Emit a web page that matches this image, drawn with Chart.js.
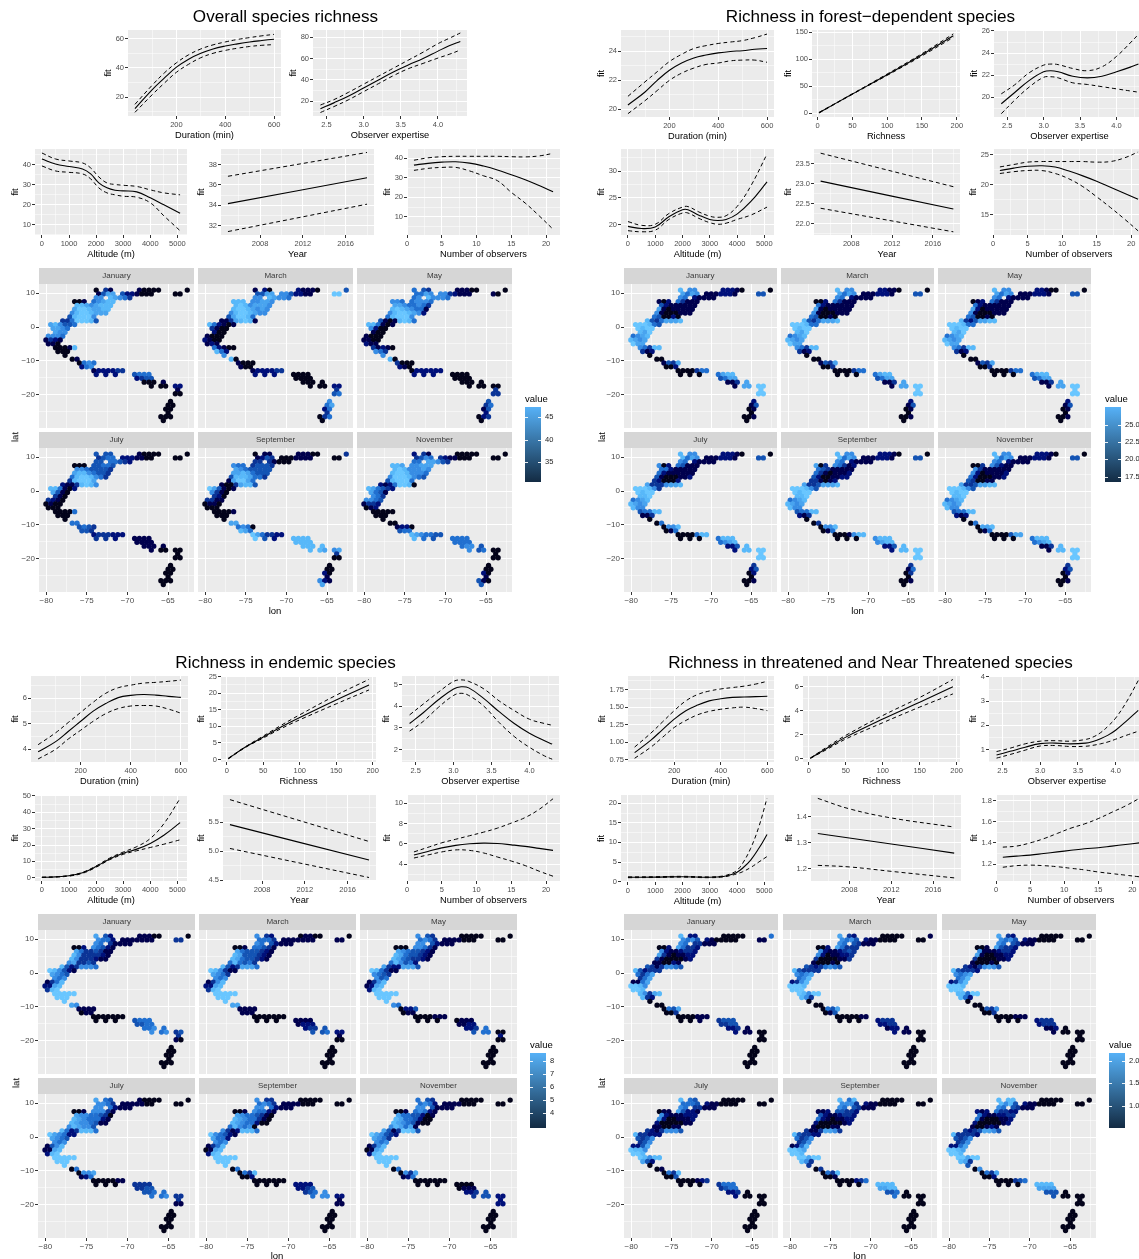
<!DOCTYPE html>
<html>
<head>
<meta charset="utf-8">
<style>
html,body{margin:0;padding:0;background:#fff;width:1139px;height:1259px;overflow:hidden}
#page{position:relative;width:1139px;height:1259px;overflow:hidden;font-family:"Liberation Sans",Arial,sans-serif}
#page canvas{position:absolute}
.t{position:absolute;white-space:nowrap;line-height:1;transform:translate(-50%,-50%);filter:grayscale(1)}
.strip{position:absolute;background:#D6D6D6;color:#3a3a3a;font-size:8px;text-align:center;filter:grayscale(1)}
.bar{position:absolute;background:linear-gradient(to top,#132B43,#56B1F7)}
.tk{position:absolute;background:#fff;height:1px;width:3px;opacity:.9}
</style>
<script src="https://cdn.jsdelivr.net/npm/chart.js@4"></script>
</head>
<body>
<div id="page"></div>
<script>
/* ---------- shared x values of the fitted curves ---------- */
const durX=[30,100,150,200,250,300,350,400,450,500,550,600];
const expX=[2.42,2.6,2.8,3,3.1,3.2,3.4,3.6,3.8,4,4.2,4.3];
const obsX=[1,3,5,7,9,11,13,15,17,19,21];
const yearX=[2005,2018];

/* ---------- Overall species richness ---------- */
const ovDurFit=[12,25,33,40.5,46,50,53,55,56.5,57.8,58.8,59.7];
const ovDurLo=[9.5,21.5,29.5,37,42.5,47,50,52,53.5,54.7,55.5,56];
const ovDurHi=[15,28,36.5,43.5,49,53,55.8,57.8,59.5,60.8,62,63];
const ovExpX=[2.42,2.6,2.8,3,3.2,3.4,3.6,3.8,4,4.15,4.3];
const ovExpFit=[13,18.5,25,32.5,40,47.5,54,60,67,72,76];
const ovExpLo=[9.5,15,21.5,29,36.5,44,50.5,55.5,60.5,64,68];
const ovExpHi=[16.5,21.5,28.5,36,43.5,51,58.5,66,74,79,84];
const ovAltX=[0,500,1000,1500,1800,2100,2400,2700,3000,3500,4000,4500,5100];
const ovAltFit=[43,40.5,39.2,38,35.5,31,28.5,27.3,27,26.5,23.5,20,15.8];
const ovAltLo=[39.5,37,36.3,35.5,33,28.5,26,25,24.3,23.8,21,14.5,7];
const ovAltHi=[46,43,42,41,38.5,34,31,30.2,29.8,29.2,27.5,26,25];
const ovYearFit=[34.15,36.7], ovYearLo=[31.4,34.1], ovYearHi=[36.85,39.2];
const ovObsFit=[36.5,37.4,38,38.2,37.5,36,34,31.5,29,26,22.8];
const ovObsLo=[33.8,34.8,35.3,35.3,33.5,31,28.5,22.5,17,10.5,3.6];
const ovObsHi=[39,40.2,40.8,41,41,41,41,40.8,40.7,41.2,42.5];

/* ---------- Forest-dependent species ---------- */
const fDurFit=[20.3,21.2,22,22.7,23.2,23.55,23.75,23.9,24,24.05,24.15,24.2];
const fDurLo=[19.7,20.6,21.3,22,22.5,22.85,23.1,23.2,23.35,23.4,23.4,23.25];
const fDurHi=[20.9,21.9,22.6,23.3,23.8,24.2,24.4,24.55,24.65,24.75,24.95,25.2];
const fRichX=[2,50,100,150,195];
const fRichFit=[1,35.5,71,108,143];
const fRichLo=[0.5,35,70,106,140];
const fRichHi=[1.5,36,72.5,110,146.5];
const fExpFit=[19.4,20.4,21.5,22.3,22.4,22.3,21.9,21.75,21.9,22.3,22.75,23];
const fExpLo=[18.5,19.7,20.9,21.8,21.85,21.75,21.3,21.15,20.95,20.75,20.55,20.45];
const fExpHi=[20.3,21.1,22.2,22.9,23,22.95,22.6,22.4,22.75,23.7,25,25.7];
const fAltX=[0,500,1000,1500,2000,2200,2600,3000,3300,3600,4000,4500,5100];
const fAltFit=[19.7,19.3,19.6,21.5,22.8,22.8,21.8,21,20.8,21,22,24.3,28];
const fAltLo=[18.9,18.7,19,21,22.2,22.2,21.2,20.4,20.1,20.3,21,21.8,23.3];
const fAltHi=[20.6,19.9,20.1,22.1,23.3,23.4,22.4,21.6,21.4,21.7,23.4,27.2,33.2];
const fYearFit=[23.07,22.37], fYearLo=[22.39,21.8], fYearHi=[23.77,22.93];
const fObsFit=[22.4,22.8,23.1,23.2,23,22.3,21.5,20.6,19.6,18.6,17.6];
const fObsLo=[21.9,22.2,22.4,22.4,21.9,21,19.7,18,16.2,14.3,12.3];
const fObsHi=[23,23.4,23.8,23.9,23.9,23.9,23.9,23.8,23.9,24.5,25.5];

/* ---------- Endemic species ---------- */
const eDurFit=[3.9,4.3,4.7,5.1,5.5,5.8,6.03,6.12,6.15,6.13,6.08,6.04];
const eDurLo=[3.62,4,4.4,4.75,5.1,5.4,5.6,5.7,5.72,5.7,5.58,5.42];
const eDurHi=[4.18,4.65,5.05,5.45,5.85,6.2,6.42,6.52,6.6,6.63,6.67,6.72];
const eRichX=[2,25,50,75,100,150,195];
const eRichFit=[0.3,3.7,6.8,9.9,12.7,18,22.5];
const eRichLo=[0.2,3.6,6.5,9.4,12,16.8,21];
const eRichHi=[0.4,3.8,7.1,10.4,13.5,19.4,24.2];
const eExpFit=[3.2,3.7,4.3,4.8,4.9,4.85,4.35,3.75,3.2,2.75,2.4,2.25];
const eExpLo=[2.85,3.3,3.95,4.5,4.6,4.5,4,3.25,2.6,2.1,1.7,1.55];
const eExpHi=[3.6,4.1,4.65,5.15,5.22,5.15,4.8,4.25,3.8,3.4,3.2,3.12];
const eAltX=[0,500,1000,1500,2000,2500,3000,3500,4000,4500,5100];
const eAltFit=[0.2,0.5,1.2,3,6.8,11.5,15,17.5,21,26,33.7];
const eAltLo=[0.2,0.4,1,2.7,6.4,11,14.3,16.5,18.5,20.5,23.2];
const eAltHi=[0.3,0.6,1.4,3.3,7.2,12,15.7,19,24,33,48.5];
const eYearFit=[5.46,4.85], eYearLo=[5.05,4.55], eYearHi=[5.89,5.17];
const eObsFit=[4.9,5.25,5.6,5.85,6,6.07,6.03,5.9,5.75,5.55,5.35];
const eObsLo=[4.6,4.9,5.2,5.4,5.35,5.1,4.7,4.3,3.85,3.3,2.8];
const eObsHi=[5.2,5.65,6.1,6.45,6.8,7.15,7.55,8.05,8.6,9.4,10.45];

/* ---------- Threatened and Near Threatened species ---------- */
const tDurFit=[0.85,1.03,1.18,1.33,1.45,1.53,1.59,1.62,1.64,1.645,1.65,1.655];
const tDurLo=[0.77,0.93,1.07,1.21,1.31,1.39,1.44,1.47,1.49,1.5,1.48,1.45];
const tDurHi=[0.93,1.13,1.29,1.45,1.59,1.68,1.73,1.76,1.78,1.8,1.83,1.87];
const tRichX=[2,25,50,100,150,195];
const tRichFit=[0.05,0.9,1.8,3.3,4.7,6];
const tRichLo=[0.04,0.8,1.65,3,4.3,5.4];
const tRichHi=[0.06,1,1.95,3.6,5.1,6.6];
const tExpX=[2.42,2.6,2.8,3,3.2,3.4,3.6,3.7,3.8,3.9,4,4.15,4.3];
const tExpFit=[0.78,0.93,1.1,1.25,1.27,1.24,1.27,1.34,1.45,1.6,1.8,2.2,2.62];
const tExpLo=[0.65,0.8,0.98,1.15,1.17,1.13,1.14,1.18,1.24,1.32,1.43,1.6,1.76];
const tExpHi=[0.92,1.06,1.24,1.35,1.37,1.35,1.42,1.52,1.7,1.97,2.3,3,3.85];
const tAltX=[0,1000,2000,3000,3500,3800,4000,4200,4500,4800,5100];
const tAltFit=[1.1,1.15,1.25,1.1,1.3,1.8,2.4,3.4,5.5,8.5,12];
const tAltLo=[1,1.05,1.15,1,1.2,1.6,2,2.5,3.6,5,6.4];
const tAltHi=[1.2,1.25,1.35,1.2,1.45,2.1,2.9,4.6,8.5,14,21.3];
const tYearX=[2005,2008,2012,2018];
const tYearFit=[1.335,1.318,1.295,1.26];
const tYearLo=[1.213,1.207,1.19,1.165];
const tYearHi=[1.47,1.43,1.395,1.36];
const tObsFit=[1.265,1.275,1.285,1.3,1.315,1.33,1.345,1.355,1.37,1.385,1.4];
const tObsLo=[1.17,1.185,1.19,1.185,1.175,1.16,1.145,1.125,1.11,1.095,1.08];
const tObsHi=[1.36,1.37,1.4,1.44,1.49,1.54,1.58,1.63,1.69,1.75,1.82];

/* ---------- map cells: [lat, [lon, ...]] per row of the hexagon grid ---------- */
const cellRows=[
[10.95,[-73.85,-72.67,-72.08,-68.53,-67.94,-67.35,-66.76,-66.17,-62.63]],
[9.81,[-73.55,-72.96,-72.37,-71.78,-70.60,-70.01,-69.42,-68.83,-68.24,-67.65,-67.06,-64.10,-63.51]],
[8.68,[-73.85,-73.26,-72.08,-71.49,-70.90,-70.30,-69.71]],
[7.54,[-76.51,-75.92,-75.33,-74.14,-73.55,-72.96,-72.37,-71.78]],
[6.40,[-76.21,-75.62,-75.03,-74.44,-73.85,-73.26,-72.67,-72.08]],
[5.27,[-76.51,-75.92,-75.33,-74.73,-74.14,-73.55,-72.96,-72.37]],
[4.13,[-76.80,-76.21,-75.62,-75.03,-74.44,-73.85,-73.26,-72.67]],
[2.99,[-77.10,-76.51,-75.92,-75.33,-74.73,-74.14]],
[1.85,[-77.98,-77.39,-76.80,-76.21,-75.62,-75.03,-74.44,-73.85]],
[0.72,[-79.46,-78.87,-78.28,-77.69,-77.10,-76.51]],
[-0.42,[-79.16,-78.57,-77.98,-77.39]],
[-1.56,[-78.87,-78.28,-77.69]],
[-2.69,[-79.75,-79.16,-78.57,-77.98]],
[-3.83,[-80.05,-79.46,-78.87,-78.28]],
[-4.97,[-79.75,-79.16,-78.57]],
[-6.10,[-78.87,-78.28,-77.69,-77.10,-76.51]],
[-7.24,[-78.57,-77.98,-77.39]],
[-8.38,[-77.69]],
[-9.52,[-76.80,-76.21]],
[-10.65,[-75.92,-75.33,-74.73,-74.14]],
[-11.79,[-75.62,-75.03,-74.44]],
[-12.93,[-74.14,-73.55,-72.96,-72.37,-71.78,-71.19,-70.60]],
[-14.06,[-73.85,-72.67,-71.49,-69.12,-68.53,-67.94,-67.35]],
[-15.20,[-68.83,-68.24,-67.65,-67.06]],
[-16.34,[-67.94,-67.35,-66.76,-65.58]],
[-17.48,[-67.06,-65.88,-65.29,-64.10,-63.51]],
[-18.61,[-63.81]],
[-19.75,[-64.10,-63.51]],
[-22.02,[-64.69]],
[-23.16,[-64.99,-64.40]],
[-24.30,[-65.29,-64.69]],
[-25.43,[-64.99]],
[-26.57,[-65.88,-65.29,-64.69]],
[-27.71,[-65.58]]
];

/* colour level (0 dark .. 9 light) per cell, one group per grid row */
const ovJan="031100000 1477422100000 6687653 00156788 88767888 79987788 68998777 489996 33599984 786445 7765 766 6665 1321 110 00018 000 0 01 0565 256 1222233 2224555 2344 0001 00022 1 00";
const ovMar="120211104 4477664221199 6687665 88866776 89867776 89987676 68998766 479985 11378981 852101 3100 200 1000 2100 121 52100 852 6 80 1000 100 1222233 2220000 0000 0000 00022 3 45 6 57 25 3 035 0";
const ovMay="543111000 5576663211110 5686665 66556665 77655653 89876551 68998762 589996 41018985 885101 6200 100 1000 1100 211 31210 653 6 80 3000 210 0222222 2220000 0000 0000 00000 3 33 4 35 14 2 023 0";
const ovJul="444100000 3455222110000 4455432 00044554 66544443 78865443 58998653 389997 21138986 885102 7410 310 3210 0100 000 00005 000 0 55 4543 443 2333222 3321111 1111 1111 10000 0 00";
const ovSep="011111003 1243000111100 3331000 65534443 76544444 77875444 48887553 179975 10037884 974101 6310 320 3311 0110 000 00001 000 0 77 5650 875 9753322 9428888 8888 8888 88767 3 00 0 00 20 1 621 7";
const ovNov="231000000 3465321100000 5577643 88766777 89866676 89986665 69998654 489995 21259980 875432 7541 653 6654 1332 012 00000 000 0 00 1220 455 8765544 8545555 5555 5664 64500 0 00 0 00 20 1 410 4";

const fJan="866222100 7576111222144 6521111 10253111 42111111 71011111 61000111 540020 84357778 999854 9899 879 5678 8767 977 65388 312 0 00 1437 002 0000355 0005788 4577 1137 17799 9 99 2 14 01 0 001 0";
const fMar="866221100 7576111222144 6521111 00253111 52111111 71011111 61000111 540010 84357778 999855 9899 879 5678 8767 977 65388 312 0 00 1437 003 0000355 0005788 4577 1137 17799 9 99 2 14 01 0 001 0";
const fMay="866221000 7576111222144 6521111 01253111 52111111 72011111 61000111 540010 83247788 999855 9899 879 5678 8767 977 65388 312 0 00 1437 003 0000355 0005788 4577 1137 17799 9 99 2 14 01 0 001 0";
const fJul="866222100 8576111222144 6521111 60254111 55211111 52111111 41000112 320002 73336778 999863 9899 889 5678 8767 866 45588 113 0 05 0668 015 0000588 0005888 5678 2248 28899 9 99 3 24 02 0 001 0";
const fSep="866222100 8576111222144 6521111 70365312 54311111 53101112 42001122 331012 73347778 999864 9899 889 5678 8767 866 45588 213 0 03 0668 015 0001688 0006888 6788 2248 28899 9 99 3 15 03 0 001 0";
const fNov="866222100 8576111222144 6521111 00364211 63111111 62011112 52000112 430011 73347788 999864 9899 889 5678 8767 866 45588 212 0 05 0778 015 0000477 0005888 5678 1138 18899 9 99 3 24 02 0 001 0";

const eJan="742111000 6552111111133 6531111 00265421 75334311 86333321 86333211 673343 84236665 986421 7654 656 1358 2278 389 99999 999 9 76 1111 011 0000000 0004555 4455 5565 65634 3 10";
const eMar="632011000 5553111111111 6542111 00155431 75444321 87444321 87544321 585453 84237775 986311 7653 656 1368 2278 389 99999 999 9 77 1111 111 0000000 0001111 1222 2334 44522 1 00";
const eMay="643000000 5653111100000 6642111 00066531 76544321 87544321 87543321 586452 73227774 985311 6543 645 1368 1278 289 99999 999 9 65 0224 011 0000111 0000111 1122 2235 45500 2 00";
const eJul="754100000 6653111110000 6652111 00166631 76655430 87655521 87665411 687664 85238885 976522 7654 656 1468 1178 289 99999 999 9 05 0667 125 0000011 0003333 3344 4455 55633 3 11";
const eSep="633000000 5653111100000 6652111 00165521 76554310 87655310 87655200 586560 63128885 965421 7552 656 1358 0178 289 99999 999 9 05 0538 002 0000000 0002222 2234 3456 56622 1 11";
const eNov="543000000 5652111100000 6641111 00156521 75544201 87554200 87654100 687571 74139984 976432 7653 656 1368 0178 289 99999 999 9 05 0637 125 0000000 0000000 0111 2234 34422 2 22";

const tJan="822000005 6564210000011 6533111 00275332 62112332 73101122 31000012 110021 43136654 842333 5357 357 1157 9986 998 86378 832 0 00 0547 003 0000111 0013444 3344 2231 21100";
const tMar="732000001 6564211000000 6543111 00275333 62112343 62011223 30000113 100010 43235654 843333 6567 568 2368 9998 999 98699 863 0 00 0547 014 0000011 0002333 2233 1221 21100";
const tMay="732000000 6564211000000 6543111 00174332 61112332 71001122 30000112 100010 32136764 843332 6567 568 2368 9998 999 88599 852 0 00 0436 003 0000111 0002333 2333 1120 10000";
const tJul="854000000 5554211000000 6533111 01174221 62111222 62001112 20000011 110011 32136664 833222 4346 346 2247 9886 998 98688 742 0 01 0538 004 0000123 0003555 3455 2230 20000";
const tSep="858000000 6663211000000 6543111 11244332 42112332 52101122 20000012 100011 31137763 843322 5346 346 1258 9987 998 99799 863 3 03 0538 001 0000235 0008888 7788 4450 50000";
const tNov="888000000 8684211000000 6543111 21253322 52112233 51000112 20000012 100121 32347764 833332 4346 346 2257 9987 998 99799 873 4 06 0537 002 0000345 0008888 7777 4440 40000";

const levelColors=["#03031a","#00004d","#00107a","#0b3496","#1454b4","#2170d0","#388de4","#49a4ef","#58b8f9","#69c6ff"];

/* ---------- tick and legend labels ---------- */
const months=["January","March","May","July","September","November"];
const lonTicks=[-80,-75,-70,-65], latTicks=[10,0,-10,-20];
const legendOv=["45","40","35"], legendF=["25.0","22.5","20.0","17.5"], legendE=["8","7","6","5","4"], legendT=["2.0","1.5","1.0"];

/* ---------- x axes of the fitted-curve plots ---------- */
const xAxes={
 dur:{title:"Duration (min)",min:1.5,max:628.5,major:[200,400,600],dec:0},
 exp:{title:"Observer expertise",min:2.32,max:4.39,major:[2.5,3,3.5,4],dec:1},
 rich:{title:"Richness",min:-8,max:204.6,major:[0,50,100,150,200],dec:0},
 alt:{title:"Altitude (m)",min:-255,max:5355,major:[0,1000,2000,3000,4000,5000],dec:0},
 year:{title:"Year",min:2004.35,max:2018.65,major:[2008,2012,2016],dec:0},
 obs:{title:"Number of observers",min:0,max:22,major:[0,5,10,15,20],dec:0}
};

/* ---------- plots: axis, panel box, y range and ticks, curves ---------- */
const plots=[
{a:"dur",b:[128,281,30,116],y:[7,66],t:[20,40,60],d:0,xs:durX,s:[ovDurFit,ovDurLo,ovDurHi]},
{a:"exp",b:[313,467,30,116],y:[6.2,86.8],t:[20,40,60,80],d:0,xs:ovExpX,s:[ovExpFit,ovExpLo,ovExpHi]},
{a:"alt",b:[35.3,187.6,149,235.3],y:[4.85,48],t:[10,20,30,40],d:0,xs:ovAltX,s:[ovAltFit,ovAltLo,ovAltHi]},
{a:"year",b:[221,374,149,235.3],y:[31.06,39.54],t:[32,34,36,38],d:0,xs:yearX,s:[ovYearFit,ovYearLo,ovYearHi]},
{a:"obs",b:[406.5,559,149,235.3],y:[0.64,44.75],t:[10,20,30,40],d:0,xs:obsX,s:[ovObsFit,ovObsLo,ovObsHi]},

{a:"dur",b:[621.3,774,30,116.7],y:[19.47,25.48],t:[20,22,24],d:0,xs:durX,s:[fDurFit,fDurLo,fDurHi]},
{a:"rich",b:[811.8,959.8,30,116.7],y:[-6.85,153.7],t:[0,50,100,150],d:0,xs:fRichX,s:[fRichFit,fRichLo,fRichHi]},
{a:"exp",b:[993.6,1145,30,116.7],y:[18.2,26.09],t:[20,22,24,26],d:0,xs:expX,s:[fExpFit,fExpLo,fExpHi]},
{a:"alt",b:[621.3,774,149,235.3],y:[18.1,34.13],t:[20,25,30],d:0,xs:fAltX,s:[fAltFit,fAltLo,fAltHi]},
{a:"year",b:[813.6,960,149,235.3],y:[21.72,23.875],t:[22,22.5,23,23.5],d:1,xs:yearX,s:[fYearFit,fYearLo,fYearHi]},
{a:"obs",b:[993,1145,149,235.3],y:[11.6,26],t:[15,20,25],d:0,xs:obsX,s:[fObsFit,fObsLo,fObsHi]},

{a:"dur",b:[30.9,187.6,676,761.7],y:[3.5,6.88],t:[4,5,6],d:0,xs:durX,s:[eDurFit,eDurLo,eDurHi]},
{a:"rich",b:[221,375.6,676,761.7],y:[-0.73,25.2],t:[0,5,10,15,20,25],d:0,xs:eRichX,s:[eRichFit,eRichLo,eRichHi]},
{a:"exp",b:[401.8,559,676,761.7],y:[1.42,5.4],t:[2,3,4,5],d:0,xs:expX,s:[eExpFit,eExpLo,eExpHi]},
{a:"alt",b:[35.3,187.6,795,881],y:[-2,50.6],t:[0,10,20,30,40,50],d:0,xs:eAltX,s:[eAltFit,eAltLo,eAltHi]},
{a:"year",b:[222.5,375.6,795,881],y:[4.49,5.97],t:[4.5,5,5.5],d:1,xs:yearX,s:[eYearFit,eYearLo,eYearHi]},
{a:"obs",b:[406.5,559,795,881],y:[2.33,10.82],t:[4,6,8,10],d:0,xs:obsX,s:[eObsFit,eObsLo,eObsHi]},

{a:"dur",b:[628.2,774,676,762.3],y:[0.717,1.945],t:[0.75,1,1.25,1.5,1.75],d:2,xs:durX,s:[tDurFit,tDurLo,tDurHi]},
{a:"rich",b:[802.7,959.8,676,762.3],y:[-0.27,6.89],t:[0,2,4,6],d:0,xs:tRichX,s:[tRichFit,tRichLo,tRichHi]},
{a:"exp",b:[989,1145,676,762.3],y:[0.49,4.04],t:[1,2,3,4],d:0,xs:tExpX,s:[tExpFit,tExpLo,tExpHi]},
{a:"alt",b:[621.3,774,795,881.5],y:[-0.1,22.1],t:[0,5,10,15,20],d:0,xs:tAltX,s:[tAltFit,tAltLo,tAltHi]},
{a:"year",b:[810.6,961,795,881],y:[1.153,1.483],t:[1.2,1.3,1.4],d:1,xs:tYearX,s:[tYearFit,tYearLo,tYearHi]},
{a:"obs",b:[995.5,1145,795,881],y:[1.04,1.853],t:[1.2,1.4,1.6,1.8],d:1,xs:obsX,s:[tObsFit,tObsLo,tObsHi]}
];

/* ---------- map panels ---------- */
const mapPanels=[
{cols:[39,198,357],w:155,rows:[284,448],h:144,strips:[268,432],sh:16,sets:[ovJan,ovMar,ovMay,ovJul,ovSep,ovNov],lat:[15,437],lon:[275,611]},
{cols:[624,781,938.4],w:152.6,rows:[284,448],h:144,strips:[268,432],sh:16,sets:[fJan,fMar,fMay,fJul,fSep,fNov],lat:[601.5,437],lon:[857.5,611]},
{cols:[38.2,199,360],w:157,rows:[930,1094],h:143.6,strips:[914,1078],sh:16,sets:[eJan,eMar,eMay,eJul,eSep,eNov],lat:[15.6,1083],lon:[277,1255.5]},
{cols:[624,783,942],w:154,rows:[930,1094],h:143.6,strips:[914,1078],sh:16,sets:[tJan,tMar,tMay,tJul,tSep,tNov],lat:[601.5,1083],lon:[859.6,1255.5]}
];
const lonRange=[-80.9,-61.8], latRange=[-29.9,12.75];

const legends=[
{x:525,w:16,y0:407,y1:481.7,labels:legendOv,ys:[417,439.5,462.3],lx:545,tx:525},
{x:1105,w:15.5,y0:407,y1:481.7,labels:legendF,ys:[425.3,442,459.3,476.7],lx:1125,tx:1105},
{x:530,w:16,y0:1053.3,y1:1127.7,labels:legendE,ys:[1061,1074,1087,1100,1113],lx:550,tx:530},
{x:1109,w:16,y0:1053.3,y1:1127.7,labels:legendT,ys:[1061,1083,1105.7],lx:1129,tx:1109}
];

const titles=[["Overall species richness",285.5,17],["Richness in forest\u2212dependent species",870.5,17],["Richness in endemic species",285.5,663],["Richness in threatened and Near Threatened species",870.5,663]];

/* ---------- drawing ---------- */
Chart.defaults.font.family='"Liberation Sans",Arial,sans-serif';
const page=document.getElementById("page");
const panelBg={id:"panelBg",beforeDraw(c){const a=c.chartArea,g=c.ctx;g.save();g.fillStyle="#EBEBEB";g.fillRect(a.left,a.top,a.right-a.left,a.bottom-a.top);g.restore();}};

function minus(s){return String(s).replace("-","\u2212");}
function withMinor(major,min,max){
 const step=major.length>1?major[1]-major[0]:0,out=new Set(major);
 major.forEach(m=>{[m-step/2,m+step/2].forEach(v=>{if(v>min&&v<max)out.add(v);});});
 return [...out].sort((a,b)=>a-b);
}
function axis(o){
 const isMajor=v=>o.major.some(m=>Math.abs(m-v)<1e-9);
 return {
  type:"linear",min:o.min,max:o.max,
  afterBuildTicks(s){s.ticks=withMinor(o.major,o.min,o.max).map(v=>({value:v}));},
  afterFit(s){if(o.horizontal)s.height=o.size;else s.width=o.size;},
  border:{display:false},
  grid:{color:"#fff",drawTicks:true,tickLength:3,
   lineWidth:c=>c.tick&&isMajor(c.tick.value)?1:0.5,
   tickColor:c=>(o.showTicks&&c.tick&&isMajor(c.tick.value))?"#333333":"rgba(0,0,0,0)",tickWidth:1},
  ticks:{display:o.labels!==false,autoSkip:false,maxRotation:0,minRotation:0,padding:1,color:"#4D4D4D",font:{size:o.tickSize||7.5},
   callback:v=>isMajor(v)?minus(Number(v).toFixed(o.dec||0)):""},
  title:o.title?{display:true,text:o.title,color:"#000",font:{size:9.3},padding:0}:{display:false}
 };
}
function place(box,mL,mT,mR,mB){
 const cv=document.createElement("canvas");
 const w=Math.round(box[1]-box[0])+mL+mR,h=Math.round(box[3]-box[2])+mT+mB;
 cv.width=w;cv.height=h;
 cv.style.left=(box[0]-mL)+"px";cv.style.top=(box[2]-mT)+"px";
 cv.style.width=w+"px";cv.style.height=h+"px";
 page.appendChild(cv);
 return cv;
}
function labelWidth(t,d){
 return Math.max(...t.map(v=>{const s=v.toFixed(d);return [...s].reduce((a,ch)=>a+(ch==="."?2:4),0);}));
}
plots.forEach(p=>{
 const ax=xAxes[p.a];
 const gap=12+labelWidth(p.t,p.d);
 const mL=gap+5,mT=7,mR=14,mB=25;
 const cv=place(p.b,mL,mT,mR,mB);
 const pts=v=>p.xs.map((x,i)=>({x,y:v[i]}));
 new Chart(cv,{type:"line",plugins:[panelBg],
  data:{datasets:p.s.map((v,i)=>({data:pts(v),borderColor:"#000",borderWidth:i?1:1.1,borderDash:i?[4,3]:[],pointRadius:0,tension:0.4,fill:false}))},
  options:{responsive:false,animation:false,events:[],
   layout:{padding:{left:0,top:mT,right:mR,bottom:0}},
   plugins:{legend:{display:false},tooltip:{enabled:false},title:{display:false}},
   scales:{
    x:axis({horizontal:true,size:mB,min:ax.min,max:ax.max,major:ax.major,dec:ax.dec,title:ax.title,showTicks:true}),
    y:axis({size:mL,min:p.y[0],max:p.y[1],major:p.t,dec:p.d,title:"fit",showTicks:true})
   }}});
});

function levels(str){
 const groups=str.split(" ");
 const out=[];
 cellRows.forEach((row,i)=>{
  const g=groups[i]||"0";
  row[1].forEach((lon,j)=>{out.push({x:lon,y:row[0],v:+(j<g.length?g[j]:g[g.length-1])});});
 });
 return out;
}
mapPanels.forEach(m=>{
 m.sets.forEach((set,i)=>{
  const col=i%3,row=Math.floor(i/3);
  const x0=m.cols[col],y0=m.rows[row];
  const strip=document.createElement("div");
  strip.className="strip";
  strip.style.cssText=`left:${x0}px;top:${m.strips[row]}px;width:${m.w}px;height:${m.sh}px;line-height:${m.sh}px`;
  strip.textContent=months[i];
  page.appendChild(strip);
  const mL=col===0?24:8,mB=row===1?14:8,mT=8,mR=8;
  const cv=place([x0,x0+m.w,y0,y0+m.h],mL,mT,mR,mB);
  const pts=levels(set);
  new Chart(cv,{type:"scatter",plugins:[panelBg],
   data:{datasets:[{data:pts,pointRadius:2.65,pointBorderWidth:0,pointBackgroundColor:pts.map(q=>levelColors[q.v]),showLine:false}]},
   options:{responsive:false,animation:false,events:[],
    layout:{padding:{left:0,top:mT,right:mR,bottom:0}},
    plugins:{legend:{display:false},tooltip:{enabled:false}},
    scales:{
     x:axis({horizontal:true,size:mB,min:lonRange[0],max:lonRange[1],major:lonTicks,labels:row===1,showTicks:row===1,tickSize:8}),
     y:axis({size:mL,min:latRange[0],max:latRange[1],major:[...latTicks].reverse(),labels:col===0,showTicks:col===0,tickSize:8})
    }}});
 });
 addText("lat",m.lat[0],m.lat[1],9.5,"#000","rotate(-90deg)");
 addText("lon",m.lon[0],m.lon[1],9.5,"#000");
});
function addText(s,x,y,size,color,extra){
 const d=document.createElement("div");
 d.className="t";d.textContent=s;
 d.style.left=x+"px";d.style.top=y+"px";d.style.fontSize=size+"px";d.style.color=color;
 if(extra)d.style.transform="translate(-50%,-50%) "+extra;
 page.appendChild(d);
}
legends.forEach(l=>{
 const b=document.createElement("div");
 b.className="bar";
 b.style.cssText=`left:${l.x}px;top:${l.y0}px;width:${l.w}px;height:${l.y1-l.y0}px`;
 page.appendChild(b);
 addTextLeft("value",l.x,l.y0-8,9.5,"#000");
 l.labels.forEach((lab,i)=>{
  addTextLeft(lab,l.lx,l.ys[i],7.5,"#222");
  [l.x,l.x+l.w-3].forEach(tx=>{
   const t=document.createElement("div");t.className="tk";
   t.style.left=tx+"px";t.style.top=l.ys[i]+"px";page.appendChild(t);
  });
 });
});
function addTextLeft(s,x,y,size,color){
 const d=document.createElement("div");
 d.style.cssText=`position:absolute;white-space:nowrap;line-height:1;left:${x}px;top:${y}px;font-size:${size}px;color:${color};transform:translateY(-50%);filter:grayscale(1)`;
 d.textContent=s;page.appendChild(d);
}
titles.forEach(t=>addText(t[0],t[1],t[2],17.1,"#000"));
</script>
</body>
</html>
